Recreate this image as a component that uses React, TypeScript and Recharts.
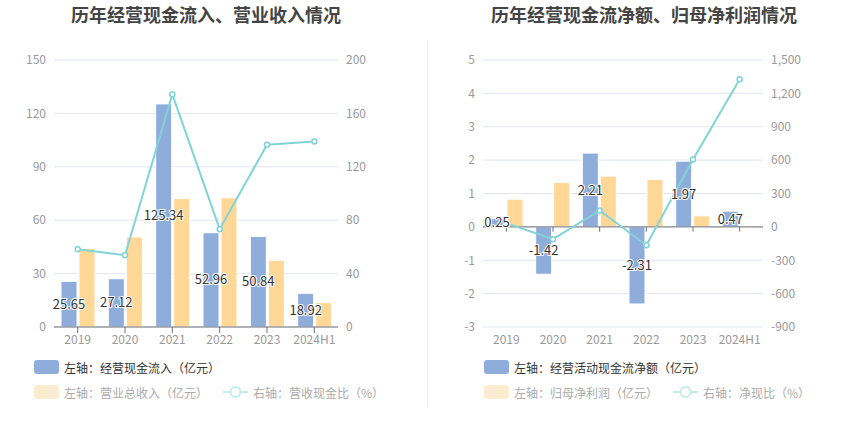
import React from "react";
import {
  ComposedChart,
  Bar,
  Line,
  XAxis,
  YAxis,
  CartesianGrid,
  LabelList,
  ReferenceLine,
} from "recharts";

const years = ["2019", "2020", "2021", "2022", "2023", "2024H1"];

// left chart
const cashInflow = [25.65, 27.12, 125.34, 52.96, 50.84, 18.92];
const revenue = [44.1, 50.6, 72.2, 72.6, 37.5, 13.7];
const cashRevenueRatio = [58.3, 53.8, 174.3, 73.3, 136.5, 139.0];
const leftTicksA = [0, 30, 60, 90, 120, 150];
const rightTicksA = [0, 40, 80, 120, 160, 200];

// right chart
const netCashFlow = [0.25, -1.42, 2.21, -2.31, 1.97, 0.47];
const netProfit = [0.83, 1.33, 1.52, 1.42, 0.33, 0.04];
const netCashRatio = [33, -111, 147, -165, 606, 1326];
const leftTicksB = [-3, -2, -1, 0, 1, 2, 3, 4, 5];
const rightTicksB = [-900, -600, -300, 0, 300, 600, 900, 1200, 1500];

const dataA = years.map((y, i) => ({
  name: y,
  bar: cashInflow[i],
  bar2: revenue[i],
  line: cashRevenueRatio[i],
}));

const dataB = years.map((y, i) => ({
  name: y,
  bar: netCashFlow[i],
  bar2: netProfit[i],
  line: netCashRatio[i],
}));

const BLUE = "#8eaddb";
const ORANGE = "#ffd796";
const TEAL = "#80d4d8";
const FONT = '"Noto Sans CJK SC", "Noto Sans", sans-serif';
const tick = { fill: "#999", fontSize: 12, fontFamily: FONT };

function Legend({ items, x }: { items: string[]; x: number }) {
  return (
    <div style={{ position: "absolute", left: x, top: 359, fontFamily: FONT, fontSize: 12 }}>
      <div style={{ display: "flex", alignItems: "center", height: 16, color: "#333" }}>
        <span style={{ width: 25, height: 14, background: BLUE, borderRadius: 3, marginRight: 5 }} />
        {items[0]}
      </div>
      <div style={{ display: "flex", alignItems: "center", height: 16, marginTop: 9, color: "#aaa" }}>
        <span style={{ width: 25, height: 14, background: "#fdedd0", borderRadius: 3, marginRight: 5 }} />
        {items[1]}
        <svg width={25} height={14} style={{ marginLeft: 15, marginRight: 5 }}>
          <line x1={0} y1={7} x2={25} y2={7} stroke="#c4ecee" strokeWidth={2} />
          <circle cx={12.5} cy={7} r={5} fill="#fff" stroke="#c4ecee" strokeWidth={2} />
        </svg>
        {items[2]}
      </div>
    </div>
  );
}

function Panel({
  title,
  titleCenter,
  data,
  leftTicks,
  rightTicks,
  zeroLine,
  legend,
  legendX,
  left,
  plotLeft,
}: {
  title: string;
  titleCenter: number;
  data: any[];
  leftTicks: number[];
  rightTicks: number[];
  zeroLine: boolean;
  legend: string[];
  legendX: number;
  left: number;
  plotLeft: number;
}) {
  // tick marks hanging below the zero axis (right chart)
  const tickLen = (leftTicks[leftTicks.length - 1] - leftTicks[0]) * 0.018;
  return (
    <div style={{ position: "absolute", left, top: 0, width: 425, height: 437 }}>
      <div
        style={{
          position: "absolute",
          left: titleCenter - 200,
          top: 1,
          width: 400,
          textAlign: "center",
          fontFamily: FONT,
          fontSize: 18,
          fontWeight: "bold",
          color: "#444",
        }}
      >
        {title}
      </div>
      <div style={{ position: "absolute", left: 0, top: 0 }}>
        <ComposedChart
          width={425}
          height={360}
          data={data}
          margin={{ top: 60, right: 27, left: 0, bottom: 0 }}
          barSize={16}
          barGap={2}
        >
          <CartesianGrid vertical={false} stroke="#e0e6f1" yAxisId="l" />
          <XAxis
            dataKey="name"
            tick={tick}
            tickLine={!zeroLine}
            axisLine={zeroLine ? false : { stroke: "#6e7079" }}
            stroke="#6e7079"
            height={33}
            interval={0}
          />
          <YAxis
            yAxisId="l"
            width={plotLeft}
            domain={[leftTicks[0], leftTicks[leftTicks.length - 1]]}
            ticks={leftTicks}
            tick={tick}
            axisLine={false}
            tickLine={false}
            interval={0}
          />
          <YAxis
            yAxisId="r"
            orientation="right"
            width={60}
            domain={[rightTicks[0], rightTicks[rightTicks.length - 1]]}
            ticks={rightTicks}
            tick={tick}
            axisLine={false}
            tickLine={false}
            interval={0}
            tickFormatter={(v: number) => v.toLocaleString("en-US")}
          />
          {zeroLine && <ReferenceLine y={0} yAxisId="l" stroke="#6e7079" />}
          {zeroLine &&
            years.map((y) => (
              <ReferenceLine
                key={y}
                yAxisId="l"
                stroke="#6e7079"
                segment={[
                  { x: y, y: 0 },
                  { x: y, y: -tickLen },
                ]}
              />
            ))}
          <Bar dataKey="bar" yAxisId="l" fill={BLUE} stroke="#fff" strokeWidth={1} isAnimationActive={false}>
            <LabelList
              dataKey="bar"
              position="center"
              fill="#333"
              fontSize={13}
              fontFamily={FONT}
              stroke="#fff"
              strokeWidth={2}
              paintOrder="stroke"
              style={{ paintOrder: "stroke" }}
            />
          </Bar>
          <Bar dataKey="bar2" yAxisId="l" fill={ORANGE} stroke="#fff" strokeWidth={1} isAnimationActive={false} />
          <Line
            dataKey="line"
            yAxisId="r"
            stroke={TEAL}
            strokeWidth={2}
            dot={{ r: 2.5, fill: "#fff", stroke: TEAL, strokeWidth: 1.5 }}
            activeDot={false}
            isAnimationActive={false}
          />
        </ComposedChart>
      </div>
      <Legend items={legend} x={legendX} />
    </div>
  );
}

export default function App() {
  return (
    <div style={{ position: "absolute", left: 0, top: 0, width: 850, height: 437, background: "#fff" }}>
      <Panel
        title="历年经营现金流入、营业收入情况"
        titleCenter={206}
        data={dataA}
        leftTicks={leftTicksA}
        rightTicks={rightTicksA}
        zeroLine={false}
        legend={["左轴：经营现金流入（亿元）", "左轴：营业总收入（亿元）", "右轴：营收现金比（%）"]}
        legendX={34}
        left={0}
        plotLeft={54}
      />
      <div style={{ position: "absolute", left: 427, top: 40, width: 1, height: 368, background: "#eee" }} />
      <Panel
        title="历年经营现金流净额、归母净利润情况"
        titleCenter={219}
        data={dataB}
        leftTicks={leftTicksB}
        rightTicks={rightTicksB}
        zeroLine={true}
        legend={["左轴：经营活动现金流净额（亿元）", "左轴：归母净利润（亿元）", "右轴：净现比（%）"]}
        legendX={59}
        left={425}
        plotLeft={58}
      />
    </div>
  );
}
